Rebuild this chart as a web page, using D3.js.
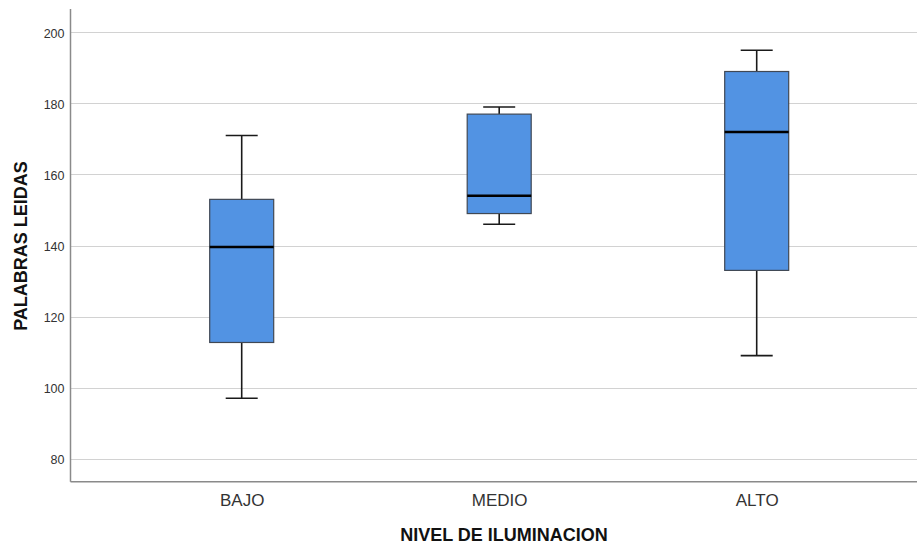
<!DOCTYPE html>
<html><head><meta charset="utf-8">
<script src="https://cdn.jsdelivr.net/npm/d3@7"></script>
<style>body{margin:0;background:#fff}svg{display:block}</style>
</head><body>
<svg id="c" width="917" height="545"></svg>
<script>
const categories = ["BAJO", "MEDIO", "ALTO"];
const whiskerLow = [97, 146, 109];
const q1 = [112.7, 149, 133];
const median = [139.6, 154, 172];
const q3 = [153, 177, 189];
const whiskerHigh = [171, 179, 195];
const yTicks = [80, 100, 120, 140, 160, 180, 200];

(function () {
const svg = d3.select("#c");
const font = "Arial, 'Liberation Sans', sans-serif";
const mLeft = 70.5, mRight = 917, mTop = 9, mBottom = 481.7;
const y = d3.scaleLinear().domain([73.5, 206.6]).range([mBottom, mTop]);
const x = d3.scalePoint().domain(categories).range([241.7, 756.7]);
const boxW = 64, capW = 32;

// gridlines
svg.append("g").selectAll("line").data(yTicks).join("line")
  .attr("x1", mLeft).attr("x2", mRight)
  .attr("y1", d => Math.round(y(d)) + 0.5).attr("y2", d => Math.round(y(d)) + 0.5)
  .attr("stroke", "#d2d2d2").attr("stroke-width", 1.2);

// y axis labels
const ya = svg.append("g").attr("transform", `translate(${mLeft},0)`)
  .call(d3.axisLeft(y).tickValues(yTicks).tickSize(0).tickPadding(6));
ya.select(".domain").remove();
ya.selectAll("text").attr("font-family", font)
  .attr("font-size", 12.5).attr("fill", "#333").attr("dy", "0.42em");

// x axis labels
const xa = svg.append("g").attr("transform", `translate(0,${mBottom})`)
  .call(d3.axisBottom(x).tickSize(0).tickPadding(12));
xa.select(".domain").remove();
xa.selectAll("text").attr("font-family", font)
  .attr("font-size", 17).attr("fill", "#333");

// axis lines
svg.append("line").attr("x1", mLeft).attr("x2", mLeft).attr("y1", mTop).attr("y2", mBottom)
  .attr("stroke", "#8a8a8a").attr("stroke-width", 1.5);
svg.append("line").attr("x1", mLeft).attr("x2", mRight).attr("y1", mBottom).attr("y2", mBottom)
  .attr("stroke", "#8a8a8a").attr("stroke-width", 1.5);

// boxes
const data = categories.map((c, i) => ({c, lo: whiskerLow[i], q1: q1[i], med: median[i], q3: q3[i], hi: whiskerHigh[i]}));
const g = svg.append("g").selectAll("g").data(data).join("g");
g.append("line").attr("x1", d => x(d.c)).attr("x2", d => x(d.c))
  .attr("y1", d => y(d.hi)).attr("y2", d => y(d.q3)).attr("stroke", "#1a1a1a").attr("stroke-width", 1.6);
g.append("line").attr("x1", d => x(d.c)).attr("x2", d => x(d.c))
  .attr("y1", d => y(d.q1)).attr("y2", d => y(d.lo)).attr("stroke", "#1a1a1a").attr("stroke-width", 1.6);
g.append("line").attr("x1", d => x(d.c) - capW/2).attr("x2", d => x(d.c) + capW/2)
  .attr("y1", d => y(d.hi)).attr("y2", d => y(d.hi)).attr("stroke", "#1a1a1a").attr("stroke-width", 1.6);
g.append("line").attr("x1", d => x(d.c) - capW/2).attr("x2", d => x(d.c) + capW/2)
  .attr("y1", d => y(d.lo)).attr("y2", d => y(d.lo)).attr("stroke", "#1a1a1a").attr("stroke-width", 1.6);
g.append("rect").attr("x", d => x(d.c) - boxW/2).attr("width", boxW)
  .attr("y", d => y(d.q3)).attr("height", d => y(d.q1) - y(d.q3))
  .attr("fill", "#5293e3").attr("stroke", "#404854").attr("stroke-width", 1.2);
g.append("line").attr("x1", d => x(d.c) - boxW/2).attr("x2", d => x(d.c) + boxW/2)
  .attr("y1", d => y(d.med)).attr("y2", d => y(d.med)).attr("stroke", "#000").attr("stroke-width", 2.5);

// titles
svg.append("text").attr("x", 504).attr("y", 541).attr("text-anchor", "middle")
  .attr("font-family", font).attr("font-size", 18).attr("font-weight", "bold")
  .attr("fill", "#111").text("NIVEL DE ILUMINACION");
svg.append("text").attr("transform", "translate(27,246) rotate(-90)").attr("text-anchor", "middle")
  .attr("font-family", font).attr("font-size", 18).attr("font-weight", "bold")
  .attr("fill", "#111").text("PALABRAS LEIDAS");
})();
</script>
</body></html>
